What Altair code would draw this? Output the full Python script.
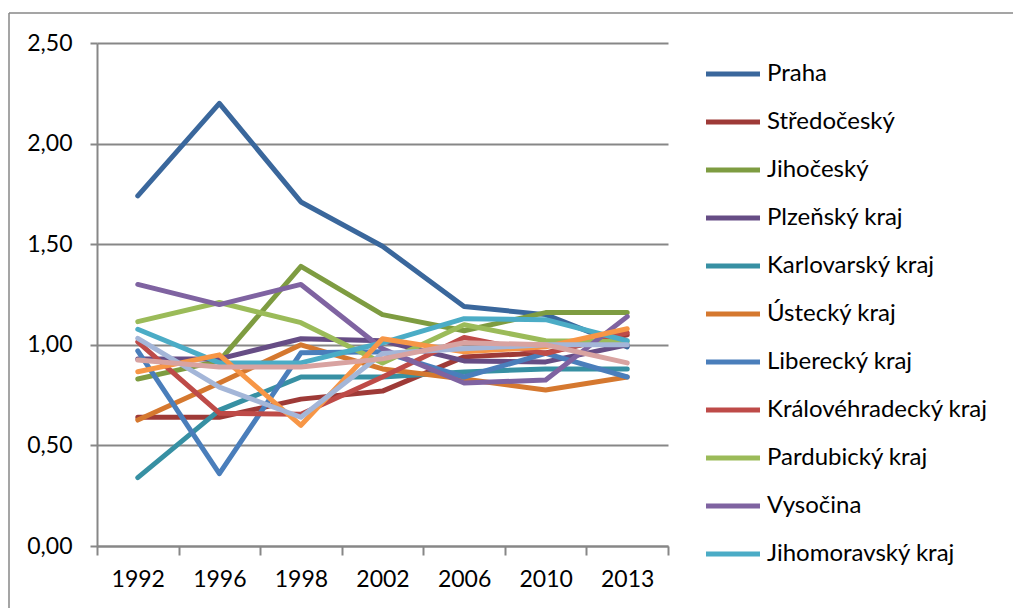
import altair as alt
import pandas as pd

years = ["1992", "1996", "1998", "2002", "2006", "2010", "2013"]

regions = ["Praha", "Středočeský", "Jihočeský", "Plzeňský kraj", "Karlovarský kraj",
           "Ústecký kraj", "Liberecký kraj", "Královéhradecký kraj", "Pardubický kraj",
           "Vysočina", "Jihomoravský kraj", "Olomoucký kraj", "Zlínský kraj",
           "Moravskoslezský kraj"]

praha = [1.74, 2.20, 1.71, 1.49, 1.19, 1.15, 0.99]
stredocesky = [0.64, 0.64, 0.73, 0.77, 0.94, 0.96, 1.05]
jihocesky = [0.83, 0.92, 1.39, 1.15, 1.07, 1.16, 1.16]
plzensky = [0.93, 0.93, 1.03, 1.02, 0.92, 0.915, 1.00]
karlovarsky = [0.34, 0.675, 0.84, 0.84, 0.865, 0.88, 0.88]
ustecky = [0.626, 0.81, 1.00, 0.88, 0.83, 0.775, 0.84]
liberecky = [0.97, 0.36, 0.96, 0.965, 0.84, 0.957, 0.84]
kralovehradecky = [1.015, 0.66, 0.655, 0.84, 1.036, 0.957, 1.06]
pardubicky = [1.115, 1.21, 1.11, 0.91, 1.10, 1.02, 1.015]
vysocina = [1.30, 1.20, 1.30, 0.98, 0.81, 0.825, 1.14]
jihomoravsky = [1.077, 0.91, 0.91, 1.01, 1.13, 1.125, 1.02]
olomoucky = [0.866, 0.95, 0.60, 1.03, 0.965, 0.99, 1.08]
zlinsky = [1.032, 0.79, 0.64, 0.957, 0.98, 1.00, 1.00]
moravskoslezsky = [0.924, 0.89, 0.89, 0.93, 1.01, 1.00, 0.91]

series = [praha, stredocesky, jihocesky, plzensky, karlovarsky, ustecky, liberecky,
          kralovehradecky, pardubicky, vysocina, jihomoravsky, olomoucky, zlinsky,
          moravskoslezsky]

colors = ["#3A679C", "#9E3A37", "#7E9C41", "#664D85", "#3790A3", "#D5782F", "#4A7EBB",
          "#BE4B48", "#9BBB59", "#7F63A1", "#4BACC6", "#F79646", "#A4B6D8", "#D8A3A1"]

rows = []
for i, (name, vals) in enumerate(zip(regions, series)):
    for y, v in zip(years, vals):
        rows.append({"kraj": name, "rok": y, "hodnota": v, "poradi": i})
df = pd.DataFrame(rows)

FONT = "Lato"
GRID = "#878787"

lines = alt.Chart(df).mark_line(strokeWidth=5, strokeCap="round", strokeJoin="round").encode(
    x=alt.X("rok:O", sort=years, title=None,
            scale=alt.Scale(type="band", paddingInner=0, paddingOuter=0),
            axis=alt.Axis(labelAngle=0, tickBand="extent", tickSize=9, tickColor=GRID,
                          tickWidth=2, domainColor=GRID, domainWidth=2, labelFontSize=23,
                          labelFont=FONT, labelColor="#000000", labelPadding=13, grid=False)),
    y=alt.Y("hodnota:Q", title=None,
            scale=alt.Scale(domain=[0, 2.5], nice=False),
            axis=alt.Axis(values=[0, 0.5, 1.0, 1.5, 2.0, 2.5], tickSize=7, tickColor=GRID,
                          tickWidth=2, domainColor=GRID, domainWidth=2, gridColor=GRID,
                          gridWidth=2, labelFontSize=23, labelFont=FONT, labelColor="#000000",
                          labelPadding=18,
                          labelExpr="replace(format(datum.value, '.2f'), '.', ',')")),
    color=alt.Color("kraj:N", sort=regions,
                    scale=alt.Scale(domain=regions, range=colors),
                    legend=alt.Legend(title=None, values=regions[:11], orient="none",
                                      legendX=620, legendY=15, symbolType="M-2,0H2",
                                      symbolSize=729, symbolStrokeWidth=5,
                                      labelFontSize=24, labelFont=FONT, labelColor="#000000",
                                      labelOffset=18, rowPadding=20, labelLimit=400)),
    order=alt.Order("poradi:Q"),
)

frame_df = pd.DataFrame({"a": [0]})
top_border = alt.Chart(frame_df).mark_rule(color=GRID, strokeWidth=1.5).encode(
    x=alt.value(-88), x2=alt.value(1000), y=alt.value(-30))
left_border = alt.Chart(frame_df).mark_rule(color=GRID, strokeWidth=1.5).encode(
    x=alt.value(-88), y=alt.value(-30), y2=alt.value(600))

chart = alt.layer(top_border, left_border, lines).properties(
    width=571, height=503,
    autosize=alt.AutoSizeParams(type="none"),
    padding={"left": 89, "top": 35, "right": 345, "bottom": 62},
).configure_view(stroke=None).configure_axis(labelFont=FONT)

chart.save("out.html", embed_options={"renderer": "svg", "actions": False})
